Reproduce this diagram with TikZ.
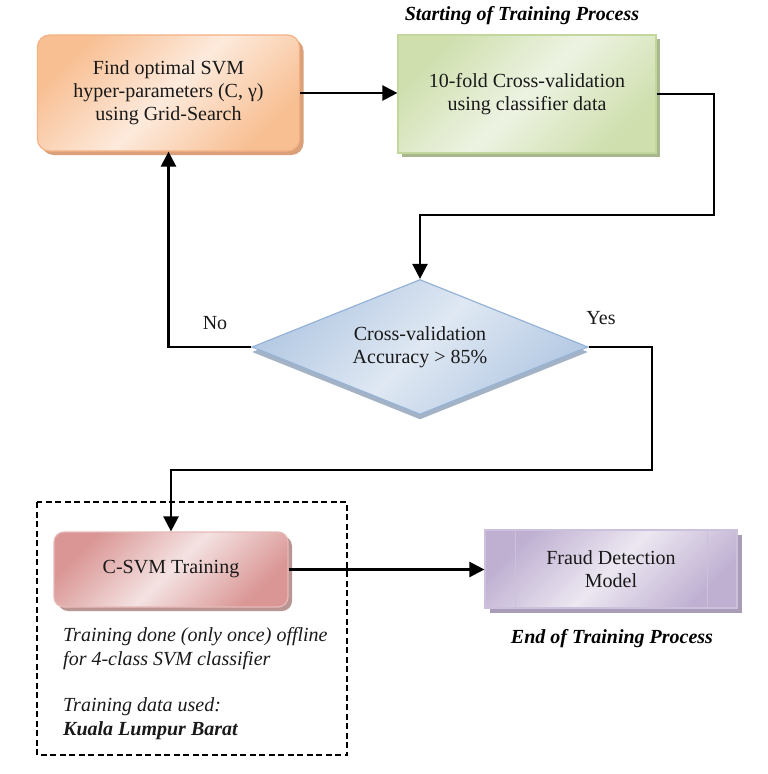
\documentclass[tikz,border=0pt]{standalone}
\usepackage{fontspec}
\setmainfont{Liberation Serif}
\usetikzlibrary{shapes.geometric,shadows,arrows.meta,calc}
\definecolor{orD}{HTML}{F8BF93}
\definecolor{orL}{HTML}{FDEADC}
\definecolor{orB}{HTML}{F4B183}
\definecolor{orS}{HTML}{D9A07A}
\definecolor{grD}{HTML}{CFDFAE}
\definecolor{grL}{HTML}{EDF3E2}
\definecolor{grB}{HTML}{C3D69B}
\definecolor{grS}{HTML}{A9B78E}
\definecolor{blD}{HTML}{B4C9E3}
\definecolor{blL}{HTML}{DFE8F3}
\definecolor{blB}{HTML}{95B3D7}
\definecolor{blS}{HTML}{A3B2C4}
\definecolor{rdD}{HTML}{D99694}
\definecolor{rdL}{HTML}{F4E2E2}
\definecolor{rdB}{HTML}{E6B9B8}
\definecolor{rdS}{HTML}{B99594}
\definecolor{puD}{HTML}{BFB0D2}
\definecolor{puL}{HTML}{ECE7F1}
\definecolor{puB}{HTML}{CCC1DA}
\definecolor{puS}{HTML}{A89CB6}
\tikzset{
  box/.style={draw, line width=1.2pt, align=center, inner sep=0pt,
    font=\fontsize{20}{23}\selectfont, text=black!90},
  orbox/.style={box, rounded corners=12pt, draw=orB, shading=axis,
    top color=orD, bottom color=orD, middle color=orL, shading angle=45,
    drop shadow={shadow xshift=4pt, shadow yshift=-4pt, fill=orS, opacity=1}},
  grbox/.style={box, draw=grB, shading=axis,
    top color=grD, bottom color=grD, middle color=grL, shading angle=45,
    drop shadow={shadow xshift=4pt, shadow yshift=-4pt, fill=grS, opacity=1}},
  dibox/.style={box, diamond, draw=blB, shading=axis,
    top color=blD, bottom color=blD, middle color=blL, shading angle=45,
    drop shadow={shadow xshift=0pt, shadow yshift=-5pt, fill=blS, opacity=1}},
  rdbox/.style={box, rounded corners=10pt, draw=rdB, shading=axis,
    top color=rdD, bottom color=rdD, middle color=rdL, shading angle=45,
    drop shadow={shadow xshift=4pt, shadow yshift=-4pt, fill=rdS, opacity=1}},
  pubox/.style={box, draw=puB, shading=axis,
    top color=puD, bottom color=puD, middle color=puL, shading angle=45,
    drop shadow={shadow xshift=5pt, shadow yshift=-5pt, fill=puS, opacity=1}},
  conn/.style={draw=black, line width=2.4pt},
  arr/.style={conn, -{Triangle[length=15pt,width=15pt]}},
  lbl/.style={font=\fontsize{20}{23}\selectfont, text=black!90},
  note/.style={font=\fontsize{20}{23}\selectfont\itshape, text=black!90, anchor=west, inner sep=0pt},
  ttl/.style={font=\fontsize{20}{23}\selectfont\bfseries\itshape, text=black, inner sep=0pt}
}
\begin{document}
\begin{tikzpicture}[x=1pt,y=-1pt]
\useasboundingbox[fill=white] (0,0) rectangle (768,774);
\node[orbox, minimum width=262pt, minimum height=116pt] (opt) at (168.5,93)
  {Find optimal SVM\\hyper-parameters (C, γ)\\using Grid-Search};
\node[grbox, minimum width=258pt, minimum height=118pt] (cv) at (527,94)
  {10-fold Cross-validation\\using classifier data};
\node[dibox, minimum width=336pt, minimum height=135pt, aspect=2.5] (acc) at (420,347)
  {Cross-validation\\Accuracy > 85\%};
\node[rdbox, minimum width=234pt, minimum height=75pt] (svm) at (171,569.5)
  {C-SVM Training};
\node[pubox, minimum width=252pt, minimum height=78pt] (fd) at (611,569)
  {Fraud Detection\\Model};
\draw[puB, line width=1.5pt] ([xshift=31pt]fd.north west) -- ([xshift=31pt]fd.south west);
\draw[puB, line width=1.5pt] ([xshift=-30pt]fd.north east) -- ([xshift=-30pt]fd.south east);

\node[ttl] (start) at (522,16) {Starting of Training Process};
\node[ttl] (end) at (612,639) {End of Training Process};

\coordinate (g1) at (714,215);
\coordinate (y1) at (652,470);
\draw[arr] (opt.east) -- (opt.east -| cv.west);
\draw[arr] (cv.east) -| (g1) -| (acc.north);
\draw[arr] (acc.west) -| (opt.south);
\draw[arr] (acc.east) -| (y1) -| (svm.north);
\draw[arr] (svm.east) -- (svm.east -| fd.west);

\node[lbl] (no) at (215,323) {No};
\node[lbl] (yes) at (601,318) {Yes};

\draw[line width=1.3pt, dash pattern=on 6pt off 3.5pt] (37,502) rectangle (347,755);
\node[note] (n1) at (63,637) {Training done (only once) offline};
\node[note] (n2) at (63,661) {for 4-class SVM classifier};
\node[note] (n3) at (63,707) {Training data used:};
\node[note, font=\fontsize{20}{23}\selectfont\bfseries\itshape] (n4) at (63,731) {Kuala Lumpur Barat};
\end{tikzpicture}
\end{document}
